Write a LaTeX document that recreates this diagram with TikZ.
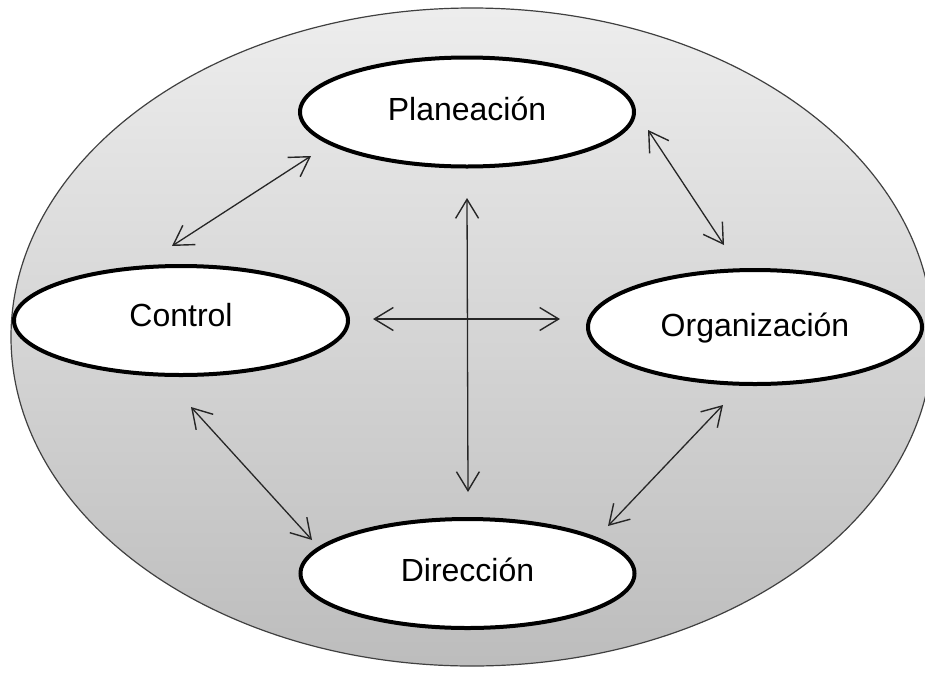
\documentclass[tikz,border=0pt]{standalone}
\usepackage{fontspec}
\setmainfont{Liberation Sans}
\usetikzlibrary{shapes.geometric,arrows.meta}
\tikzset{
  phase/.style={ellipse, draw=black, line width=4pt, fill=white, inner sep=0pt,
    minimum width=334pt, minimum height=109pt,
    font=\fontsize{32pt}{38pt}\selectfont, text height=23pt},
  linkarrow/.style={line width=1.3pt, draw=black!85,
    {Straight Barb[length=19pt,width=23pt,line width=1.4pt]}-{Straight Barb[length=19pt,width=23pt,line width=1.4pt]}}
}
\begin{document}
\begin{tikzpicture}[x=1pt,y=-1pt]
\useasboundingbox (0,0) rectangle (925,675);
\fill[white] (0,0) rectangle (925,675);
\begin{scope}
\clip (0,0) rectangle (925,675);
\shade[top color=black!7, bottom color=black!26] (472,337) ellipse (461 and 329);
\draw[line width=1.2pt, draw=black!75] (472,337) ellipse (461 and 329);
\end{scope}
\node[phase, text depth=7pt] (P) at (467,112) {Planeación};
\node[phase, text depth=12pt] (C) at (181,320.5) {Control};
\node[phase, text depth=4pt, minimum height=114pt] (O) at (755,327) {Organización};
\node[phase, text depth=7pt] (D) at (467.5,573.5) {Dirección};
\coordinate (cp1) at (172,246);
\coordinate (cp2) at (311,156);
\coordinate (po1) at (648,130);
\coordinate (po2) at (724,245);
\coordinate (cd1) at (191,407);
\coordinate (cd2) at (312,540);
\coordinate (od1) at (723,405);
\coordinate (od2) at (608,526);
\coordinate (v1) at (467,198);
\coordinate (v2) at (468,492);
\coordinate (h1) at (373,319);
\coordinate (h2) at (560,319);
\draw[linkarrow] (cp1) -- (cp2);
\draw[linkarrow] (po1) -- (po2);
\draw[linkarrow] (cd1) -- (cd2);
\draw[linkarrow] (od1) -- (od2);
\draw[linkarrow] (v1) -- (v2);
\draw[linkarrow] (h1) -- (h2);
\end{tikzpicture}
\end{document}
